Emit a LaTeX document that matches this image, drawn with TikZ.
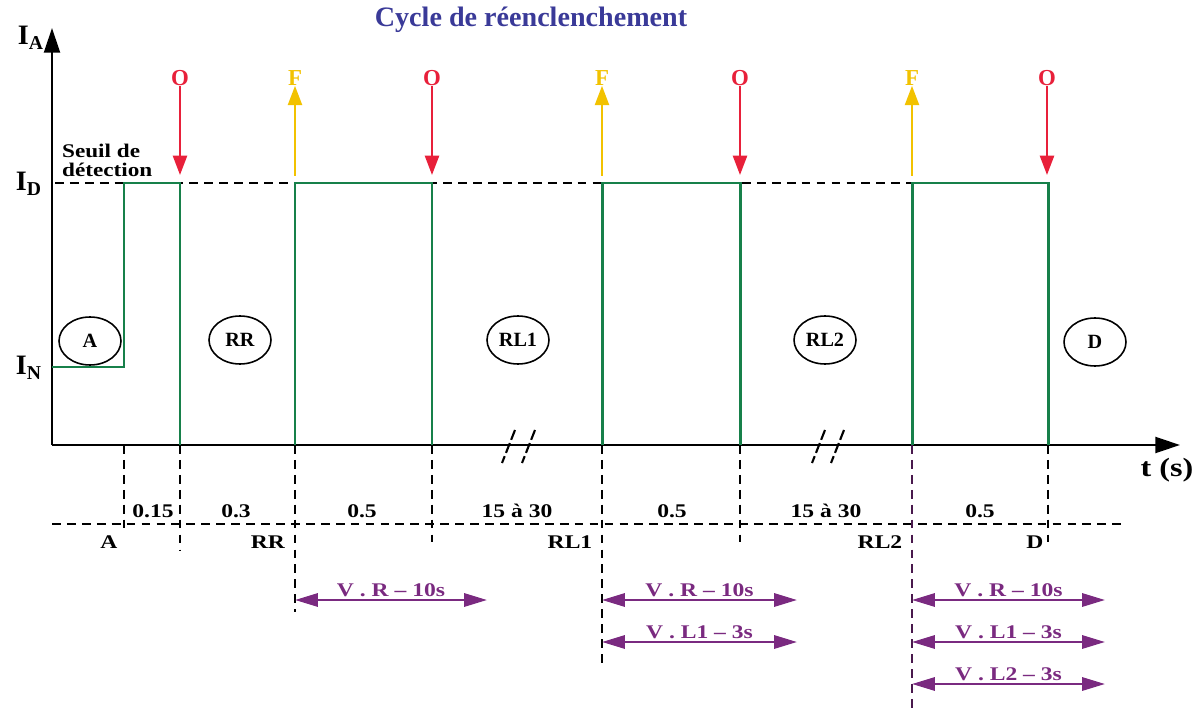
\documentclass[tikz,border=0pt]{standalone}
\usepackage{fontspec}
\usepackage{graphicx}
\setmainfont{Liberation Serif}
\usetikzlibrary{arrows.meta,shapes.geometric}
\definecolor{sig}{HTML}{17804A}
\definecolor{opn}{HTML}{E8203A}
\definecolor{cls}{HTML}{F2C200}
\definecolor{vio}{HTML}{7A2A80}
\definecolor{ttl}{HTML}{3A3A98}
\newcommand\stretchtxt[1]{\scalebox{1.22}[1]{#1}}
\tikzset{
  lbl/.style={font=\bfseries\fontsize{11}{13}\selectfont, inner sep=1pt},
  axlbl/.style={font=\bfseries\fontsize{16}{18}\selectfont, inner sep=0pt},
  zone/.style={draw, ellipse, line width=0.9pt, minimum width=1.24cm, minimum height=0.96cm, inner sep=0pt, font=\bfseries\fontsize{11.5}{13}\selectfont},
  sigline/.style={draw=sig, line width=1.7pt},
  dsh/.style={dash pattern=on 5pt off 3.5pt, line width=1.2pt},
  openarr/.style={draw=opn, line width=1.3pt, -{Triangle[length=11pt,width=8pt]}},
  closearr/.style={draw=cls, line width=1.3pt, -{Triangle[length=11pt,width=8pt]}},
  olbl/.style={font=\bfseries\fontsize{13}{14}\selectfont, text=opn, inner sep=0pt},
  flbl/.style={font=\bfseries\fontsize{13}{14}\selectfont, text=cls, inner sep=0pt},
  varr/.style={draw=vio, line width=1.4pt, {Triangle[length=13pt,width=7.5pt]}-{Triangle[length=13pt,width=7.5pt]}},
  vlbl/.style={font=\bfseries\fontsize{11}{13}\selectfont, text=vio, inner sep=1pt},
  axis/.style={line width=1.5pt, -{Triangle[length=14pt,width=9pt]}},
  brk/.style={line width=1.2pt, dash pattern=on 6pt off 2pt},
}
\begin{document}
\begin{tikzpicture}[x=0.02cm,y=-0.02cm]
\useasboundingbox (0,0) rectangle (1200,709);
% title
\node[font=\bfseries\fontsize{16}{18}\selectfont, text=ttl] (title) at (531,20) {Cycle de réenclenchement};
% axes
\coordinate (O) at (52,445);
\coordinate (ytop) at (52,28);
\coordinate (xend) at (1180,445);
\draw[axis] (O) -- (ytop);
\draw[axis] (O) -- (xend);
\node[axlbl] (IA) at (31,38) {I\textsubscript{A}};
\node[axlbl] (ID) at (29,184) {I\textsubscript{D}};
\node[axlbl] (IN) at (29,368) {I\textsubscript{N}};
\node[axlbl, font=\bfseries\fontsize{15}{17}\selectfont] (ts) at (1167,470) {\stretchtxt{t (s)}};
\node[lbl, anchor=north west] (seuil) at (60,139) {\scalebox{1.2}[1]{\begin{tabular}{@{}l@{}}Seuil de\\[-2pt]détection\end{tabular}}};
% ID threshold
\coordinate (th0) at (55,183);
\coordinate (th1) at (912,183);
\draw[dsh] (th0) -- (th1);
% time points
\foreach \n/\x in {a/124, b/180, c/295, d/432, e/602, f/740, g/912, h/1048}{
  \coordinate (\n0) at (\x,445);
  \coordinate (\n1) at (\x,183);
}
\coordinate (n0) at (52,367);
\coordinate (n1) at (124,367);
% signal
\draw[sigline] (n0) -- (n1) -- (a1) -- (b1) -- (b0);
\draw[sigline] (c0) -- (c1) -- (d1) -- (d0);
\draw[sigline] (e0) -- (e1) -- (f1) -- (f0);
\draw[sigline] (g0) -- (g1) -- (h1) -- (h0);
% O / F arrows
\foreach \n/\x in {o1/180, o2/432, o3/740, o4/1047}{
  \node[olbl] (\n) at (\x,78) {O};
  \coordinate (\n e) at (\x,175);
  \draw[openarr] (\n) -- (\n e);
}
\foreach \n/\x in {f1/295, f2/602, f3/912}{
  \node[flbl] (\n) at (\x,78) {F};
  \coordinate (\n s) at (\x,176);
  \draw[closearr] (\n s) -- (\n);
}
% zones
\node[zone] (zA) at (90,341) {A};
\node[zone] (zRR) at (240,340) {RR};
\node[zone] (zRL1) at (518,340) {RL1};
\node[zone] (zRL2) at (825,340) {RL2};
\node[zone] (zD) at (1095,342) {D};
% break marks
\foreach \x in {509,529,819,838}{
  \draw[brk] (\x+6,430) -- (\x-7,463);
}
% bottom dashed lines
\coordinate (hl0) at (52,524);
\coordinate (hl1) at (1122,524);
\draw[dsh] (hl0) -- (hl1);
\coordinate (a2) at (124,532);
\coordinate (b2) at (180,550);
\coordinate (c2) at (295,612);
\coordinate (d2) at (432,542);
\coordinate (e2) at (602,668);
\coordinate (f2) at (740,542);
\coordinate (g2) at (912,709);
\coordinate (h2) at (1048,542);
\foreach \n in {a,b,c,d,e,f,h}{
  \draw[dsh] (\n0) -- (\n2);
}
\draw[dsh, draw=vio!60!black] (g0) -- (g2);
% durations
\foreach \x/\t in {153/0.15, 236/0.3, 362/0.5, 517/15 à 30, 672/0.5, 826/15 à 30, 980/0.5}{
  \node[lbl] at (\x,511) {\stretchtxt{\t}};
}
\foreach \x/\t in {109/A, 268/RR, 570/RL1, 880/RL2, 1035/D}{
  \node[lbl] at (\x,542) {\stretchtxt{\t}};
}
% timers
\coordinate (r1s) at (295,600); \coordinate (r1e) at (487,600);
\draw[varr] (r1s) -- node[vlbl, above] {\stretchtxt{V . R -- 10s}} (r1e);
\coordinate (r2s) at (602,600); \coordinate (r2e) at (797,600);
\draw[varr] (r2s) -- node[vlbl, above] {\stretchtxt{V . R -- 10s}} (r2e);
\coordinate (l2s) at (602,642); \coordinate (l2e) at (797,642);
\draw[varr] (l2s) -- node[vlbl, above] {\stretchtxt{V . L1 -- 3s}} (l2e);
\coordinate (r3s) at (912,600); \coordinate (r3e) at (1105,600);
\draw[varr] (r3s) -- node[vlbl, above] {\stretchtxt{V . R -- 10s}} (r3e);
\coordinate (l3s) at (912,642); \coordinate (l3e) at (1105,642);
\draw[varr] (l3s) -- node[vlbl, above] {\stretchtxt{V . L1 -- 3s}} (l3e);
\coordinate (m3s) at (912,684); \coordinate (m3e) at (1105,684);
\draw[varr] (m3s) -- node[vlbl, above] {\stretchtxt{V . L2 -- 3s}} (m3e);
\end{tikzpicture}
\end{document}
